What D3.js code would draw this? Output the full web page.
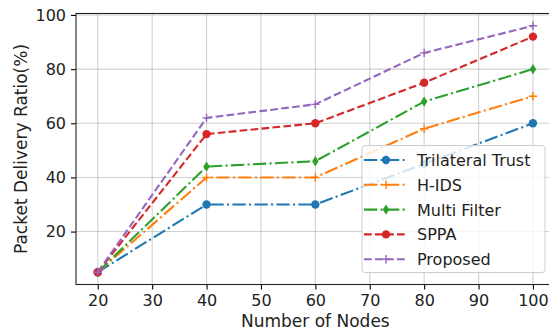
<!DOCTYPE html>
<html>
<head>
<meta charset="utf-8">
<script src="https://cdn.jsdelivr.net/npm/d3@7"></script>
<style>
  html, body { margin: 0; padding: 0; background: #fff; }
  svg { display: block; font-family: "DejaVu Sans", sans-serif; }
</style>
</head>
<body>
<svg id="chart" width="549" height="336"></svg>
<script>
// Packet delivery ratio vs. number of nodes
const nodes = [20, 40, 60, 80, 100];
const trilateralTrust = [5, 30, 30, 45, 60];
const hIds = [5, 40, 40, 58, 70];
const multiFilter = [5, 44, 46, 68, 80];
const sppa = [5, 56, 60, 75, 92];
const proposed = [5, 62, 67, 86, 96];
const xTicks = [20, 30, 40, 50, 60, 70, 80, 90, 100];
const yTicks = [20, 40, 60, 80, 100];

const series = [
  { name: "Trilateral Trust", values: trilateralTrust, color: "#1f77b4", dash: "13.3,3.3,2.1,3.3", marker: "circle" },
  { name: "H-IDS", values: hIds, color: "#ff7f0e", dash: "13.3,3.3,2.1,3.3", marker: "plus" },
  { name: "Multi Filter", values: multiFilter, color: "#2ca02c", dash: "13.3,3.3,2.1,3.3", marker: "diamond" },
  { name: "SPPA", values: sppa, color: "#d62728", dash: "7.7,3.3", marker: "circle" },
  { name: "Proposed", values: proposed, color: "#9467bd", dash: "7.7,3.3", marker: "plus" }
];

const svg = d3.select("#chart");
const plotL = 76, plotT = 13.5, plotR = 554.7, plotB = 284.5;

const x = d3.scaleLinear().domain([16, 104]).range([plotL, plotR]);
const y = d3.scaleLinear().domain([0.45, 100.55]).range([plotB, plotT]);

// grid
const grid = svg.append("g");
grid.selectAll("line.gx").data(xTicks).join("line")
  .attr("x1", d => x(d)).attr("x2", d => x(d))
  .attr("y1", plotT).attr("y2", plotB)
  .attr("stroke", "#b0b0b0").attr("stroke-opacity", 0.6).attr("stroke-width", 1.1);
grid.selectAll("line.gy").data(yTicks).join("line")
  .attr("x1", plotL).attr("x2", plotR)
  .attr("y1", d => y(d)).attr("y2", d => y(d))
  .attr("stroke", "#b0b0b0").attr("stroke-opacity", 0.6).attr("stroke-width", 1.1);

// axes
const xAxis = d3.axisBottom(x).tickValues(xTicks).tickSize(5).tickPadding(5).tickFormat(d3.format("d"));
const yAxis = d3.axisLeft(y).tickValues(yTicks).tickSize(5).tickPadding(5).tickFormat(d3.format("d"));

const gx = svg.append("g").attr("transform", `translate(0,${plotB})`).call(xAxis);
const gy = svg.append("g").attr("transform", `translate(${plotL},0)`).call(yAxis);
[gx, gy].forEach(g => {
  g.select(".domain").remove();
  g.selectAll(".tick line").attr("stroke", "#000").attr("stroke-width", 1.1);
  g.selectAll(".tick text").attr("fill", "#222").style("font-size", "16px").style("font-family", "DejaVu Sans");
});

// frame
svg.append("rect")
  .attr("x", plotL).attr("y", plotT)
  .attr("width", plotR - plotL).attr("height", plotB - plotT)
  .attr("fill", "none").attr("stroke", "#222").attr("stroke-width", 1.1);

// axis labels
svg.append("text")
  .attr("x", (plotL + plotR) / 2).attr("y", 327)
  .attr("text-anchor", "middle").attr("fill", "#222")
  .style("font-size", "17px").text("Number of Nodes");
svg.append("text")
  .attr("transform", `translate(27,${(plotT + plotB) / 2}) rotate(-90)`)
  .attr("text-anchor", "middle").attr("fill", "#222")
  .style("font-size", "17px").text("Packet Delivery Ratio(%)");

function drawMarker(g, type, color) {
  if (type === "circle") {
    g.append("circle").attr("r", 4.2).attr("fill", color);
  } else if (type === "diamond") {
    g.append("path").attr("d", "M0,-5.2L3.2,0L0,5.2L-3.2,0Z").attr("fill", color);
  } else if (type === "plus") {
    g.append("path").attr("d", "M-4.2,0H4.2M0,-4.2V4.2").attr("stroke", color).attr("stroke-width", 1.4).attr("fill", "none");
  }
}

const line = d3.line().x((d, i) => x(nodes[i])).y(d => y(d));

series.forEach(s => {
  svg.append("path")
    .attr("d", line(s.values))
    .attr("fill", "none").attr("stroke", s.color)
    .attr("stroke-width", 2.1).attr("stroke-dasharray", s.dash);
  s.values.forEach((v, i) => {
    const g = svg.append("g").attr("transform", `translate(${x(nodes[i])},${y(v)})`);
    drawMarker(g, s.marker, s.color);
  });
});

// legend
const lg = svg.append("g");
lg.append("rect")
  .attr("x", 362).attr("y", 145.5).attr("width", 183).attr("height", 127)
  .attr("rx", 3).attr("fill", "#fff").attr("fill-opacity", 0.8)
  .attr("stroke", "#cccccc").attr("stroke-width", 1);
series.forEach((s, i) => {
  const cy = 160 + i * 24.8;
  lg.append("line")
    .attr("x1", 364).attr("x2", 406).attr("y1", cy).attr("y2", cy)
    .attr("stroke", s.color).attr("stroke-width", 2.1).attr("stroke-dasharray", s.dash);
  const m = lg.append("g").attr("transform", `translate(386,${cy})`);
  drawMarker(m, s.marker, s.color);
  lg.append("text")
    .attr("x", 417).attr("y", cy + 6)
    .attr("fill", "#222").style("font-size", "16px").text(s.name);
});
</script>
</body>
</html>
